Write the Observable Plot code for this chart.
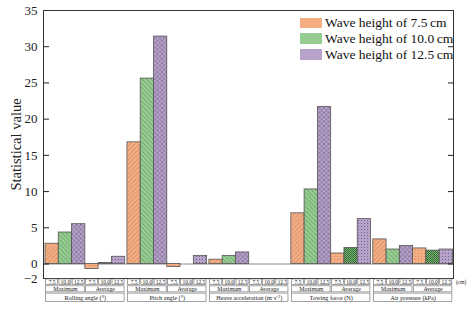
<!DOCTYPE html>
<html><head><meta charset="utf-8">
<script src="https://cdn.jsdelivr.net/npm/d3@7"></script>
<script src="https://cdn.jsdelivr.net/npm/@observablehq/plot@0.6"></script>
<style>
body{margin:0;background:#fff;font-family:"Liberation Serif","Times New Roman",serif;}
#wrap{position:relative;width:467px;height:312px;}
.legend{position:absolute;left:300px;top:15px;font-size:13.5px;color:#111;font-family:"Liberation Serif","Times New Roman",serif;}
.legend div{display:flex;align-items:center;height:15.8px;}
.legend span.sw{display:inline-block;width:22px;height:10.5px;margin-right:3px;}
</style></head><body><div id="wrap"></div>
<script>
const categories = ["Rolling angle (°)", "Pitch angle (°)", "Heave acceleration (m·s⁻²)", "Towing force (N)", "Air pressure (kPa)"];
const waveHeights = ["7.5", "10.0", "12.5"];
const stats = ["Maximum", "Average"];
const seriesNames = ["Wave height of 7.5\u2009cm", "Wave height of 10.0\u2009cm", "Wave height of 12.5\u2009cm"];
const max75  = [2.8, 16.8, 0.6, 7.0, 3.4];
const max100 = [4.35, 25.6, 1.1, 10.3, 2.0];
const max125 = [5.5, 31.4, 1.6, 21.7, 2.5];
const avg75  = [-0.7, -0.4, 0, 1.45, 2.15];
const avg100 = [0.15, 0, 0, 2.2, 1.85];
const avg125 = [1.0, 1.1, 0, 6.2, 2.0];
const yTicks = [-2, 0, 5, 10, 15, 20, 25, 30, 35];

const colors = ["#F5AE84", "#96CB91", "#B7A2CA"];
const statValues = [[max75, max100, max125], [avg75, avg100, avg125]];
const G = 6.17; // group period in bar units

const bars = [], row1 = [], row2 = [], row3 = [];
categories.forEach((c, g) => {
  stats.forEach((s, si) => {
    waveHeights.forEach((w, k) => {
      const x1 = g * G + si * 3 + k;
      bars.push({x1, x2: x1 + 1, v: statValues[si][k][g], fill: `url(#p-${si}-${k})`});
      row1.push({x1, x2: x1 + 1, label: w});
    });
    const x1 = g * G + si * 3;
    row2.push({x1, x2: x1 + 3, label: s});
  });
  row3.push({x1: g * G, x2: g * G + 6, label: c});
});

const chart = Plot.plot({
  width: 467, height: 312,
  marginLeft: 43, marginRight: 14, marginTop: 10, marginBottom: 34,
  x: {type: "linear", domain: [-0.15, 30.72], axis: null},
  y: {domain: [-2, 35]},
  color: {type: "identity"},
  style: {fontFamily: "'Liberation Serif', 'Times New Roman', serif", fontSize: "12px", color: "#222", background: "white"},
  marks: [
    Plot.ruleY([0], {stroke: "#8a8a8a", strokeWidth: 1}),
    Plot.rectY(bars, {x1: "x1", x2: "x2", y1: 0, y2: "v", fill: "fill", stroke: "#555", strokeWidth: 0.8}),
    Plot.axisY({ticks: yTicks, tickSize: -6, tickPadding: 12, fontSize: 13, label: null, tickFormat: d => d < 0 ? "\u22122" : String(d)}),
    Plot.axisY({ticks: [], label: "Statistical value", labelAnchor: "center", labelOffset: 33, labelArrow: "none", fontSize: 14.5}),
    Plot.axisY({anchor: "right", ticks: yTicks.slice(1), tickSize: -6, tickFormat: () => "", label: null}),
    Plot.frame({stroke: "#333", strokeWidth: 1}),
    Plot.rect(row1, {x1: "x1", x2: "x2", y1: -2.05, y2: -3, inset: 0.6, stroke: "#666", strokeWidth: 0.6, fill: "white"}),
    Plot.text(row1, {x: d => (d.x1 + d.x2) / 2, y: -2.52, text: "label", fontSize: 5.5}),
    Plot.rect(row2, {x1: "x1", x2: "x2", y1: -3, y2: -4, inset: 0.6, stroke: "#666", strokeWidth: 0.6, fill: "white"}),
    Plot.text(row2, {x: d => (d.x1 + d.x2) / 2, y: -3.5, text: "label", fontSize: 5.8}),
    Plot.rect(row3, {x1: "x1", x2: "x2", y1: -4, y2: -5.3, inset: 0.6, stroke: "#666", strokeWidth: 0.6, fill: "white"}),
    Plot.text(row3, {x: d => (d.x1 + d.x2) / 2, y: -4.65, text: "label", fontSize: 6.2}),
    Plot.text([row1[row1.length - 1]], {x: "x2", y: -2.52, text: () => "(cm)", textAnchor: "start", dx: 3, fontSize: 5.5})
  ]
});

// patterns
const ns = "http://www.w3.org/2000/svg";
const defs = document.createElementNS(ns, "defs");
const patDefs = [
  ["p-0-0", 4.5, `<rect width="4.5" height="4.5" fill="${colors[0]}"/><path d="M-1,1 l2,-2 M0,4.5 l4.5,-4.5 M3.5,5.5 l2,-2" stroke="#b5774f" stroke-width="0.6"/>`],
  ["p-0-1", 4.5, `<rect width="4.5" height="4.5" fill="${colors[1]}"/><path d="M-1,3.5 l2,2 M0,0 l4.5,4.5 M3.5,-1 l2,2" stroke="#4f8a4c" stroke-width="0.6"/>`],
  ["p-0-2", 4.5, `<rect width="4.5" height="4.5" fill="${colors[2]}"/><path d="M-1,1 l2,-2 M0,4.5 l4.5,-4.5 M3.5,5.5 l2,-2 M-1,3.5 l2,2 M0,0 l4.5,4.5 M3.5,-1 l2,2" stroke="#6e5a80" stroke-width="0.55"/>`],
  ["p-1-0", 3, `<rect width="3" height="3" fill="${colors[0]}"/><circle cx="1.5" cy="1.5" r="0.45" fill="#a36c4a"/>`],
  ["p-1-1", 2, `<rect width="2" height="2" fill="#7fb57a"/><rect x="0" y="0" width="1" height="1" fill="#2f6a2e"/><rect x="1" y="1" width="1" height="1" fill="#2f6a2e"/>`],
  ["p-1-2", 3, `<rect width="3" height="3" fill="${colors[2]}"/><circle cx="1.5" cy="1.5" r="0.5" fill="#5f4c72"/>`]
];
for (const [id, s, inner] of patDefs) {
  const p = document.createElementNS(ns, "pattern");
  p.setAttribute("id", id);
  p.setAttribute("patternUnits", "userSpaceOnUse");
  p.setAttribute("width", s);
  p.setAttribute("height", s);
  p.innerHTML = inner;
  defs.appendChild(p);
}
chart.insertBefore(defs, chart.firstChild);

const wrap = document.getElementById("wrap");
wrap.appendChild(chart);
const leg = document.createElement("div");
leg.className = "legend";
seriesNames.forEach((n, i) => {
  const r = document.createElement("div");
  const sw = document.createElement("span");
  sw.className = "sw";
  sw.style.background = colors[i];
  r.appendChild(sw);
  r.appendChild(document.createTextNode(n));
  leg.appendChild(r);
});
wrap.appendChild(leg);
</script></body></html>
